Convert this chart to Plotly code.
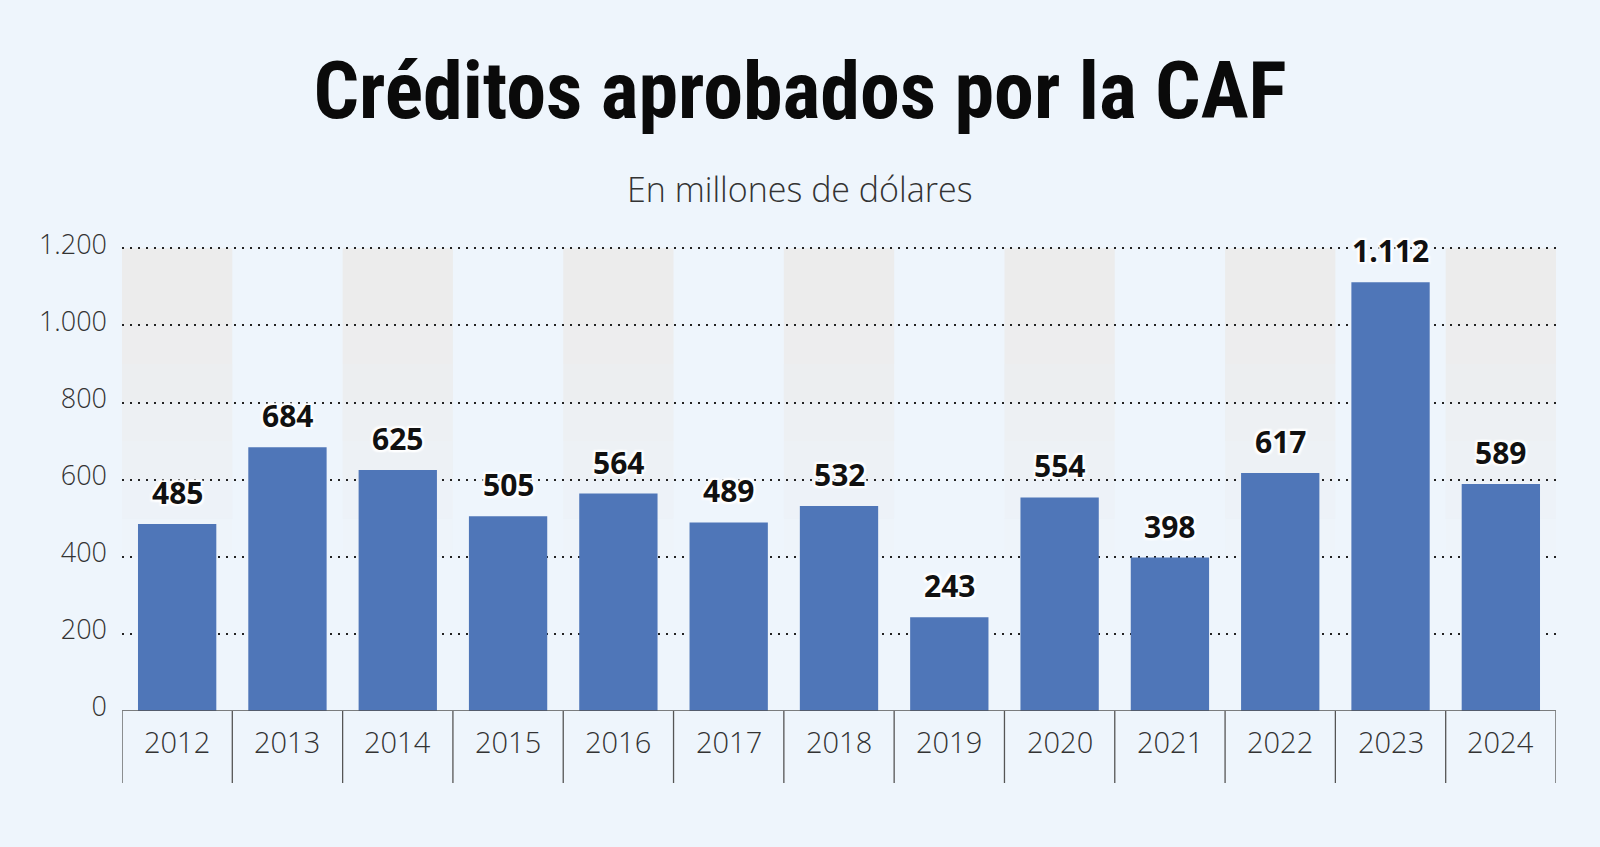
import plotly.graph_objects as go

years = ["2012", "2013", "2014", "2015", "2016", "2017", "2018", "2019", "2020", "2021", "2022", "2023", "2024"]
values = [485, 684, 625, 505, 564, 489, 532, 243, 554, 398, 617, 1112, 589]
value_labels = ["485", "684", "625", "505", "564", "489", "532", "243", "554", "398", "617", "1.112", "589"]
y_ticks = [0, 200, 400, 600, 800, 1000, 1200]
y_tick_labels = ["0", "200", "400", "600", "800", "1.000", "1.200"]

BG = "#eef5fc"
BAR = "#4f76b8"
W, H = 1600, 847
ML, MR, MB = 122, 44, 136
Y_TOP_PX = 248
Y_MAX = 1206
ppu = (H - MB - Y_TOP_PX) / 1200.0
MT = int(round(H - MB - Y_MAX * ppu))
plot_h = H - MT - MB
plot_w = W - ML - MR

fig = go.Figure()
fig.add_trace(go.Bar(
    x=years, y=values, marker=dict(color=BAR, line=dict(width=0)),
    width=0.71, hoverinfo="skip",
))

shapes = []
steps = [(1200, 1000, 1.0), (1000, 900, 0.9), (900, 800, 0.78), (800, 700, 0.6), (700, 600, 0.42), (600, 500, 0.25), (500, 400, 0.12)]
for i in range(0, len(years), 2):
    for top, bot, op in steps:
        shapes.append(dict(type="rect", xref="x", yref="y", x0=i - 0.5, x1=i + 0.5, y0=bot, y1=top,
                           fillcolor="#ececec", opacity=op, line=dict(width=0), layer="below"))
for i in range(len(years) + 1):
    shapes.append(dict(type="line", xref="x", yref="paper", x0=i - 0.5, x1=i - 0.5, y0=0, y1=-72.0 / plot_h,
                       line=dict(color="#555555", width=1.3)))
shapes.append(dict(type="line", xref="paper", yref="y", x0=0, x1=1, y0=0, y1=0,
                   line=dict(color="#555555", width=1.3)))

halo = "2px 2px 2px white, -2px -2px 2px white, 2px -2px 2px white, -2px 2px 2px white"
annotations = []
for i, (v, lab) in enumerate(zip(values, value_labels)):
    annotations.append(dict(xref="x", yref="y", x=i, y=v, text=lab, showarrow=False, yanchor="bottom", yshift=9,
                            font=dict(family="Open Sans", size=30, color="#111111", weight=700, shadow=halo)))
for i, yr in enumerate(years):
    annotations.append(dict(xref="x", yref="y", x=i, y=0, text=yr, showarrow=False, yanchor="middle", yshift=-30,
                            font=dict(family="Open Sans", size=29, color="#333333", weight=300)))
annotations.append(dict(xref="paper", yref="paper", x=(800 - ML) / plot_w, y=1 + (MT - 189) / plot_h,
                        yanchor="middle", xanchor="center", text="En millones de dólares", showarrow=False,
                        font=dict(family="Open Sans", size=34, color="#333333", weight=300)))

fig.update_layout(
    width=W, height=H,
    paper_bgcolor=BG, plot_bgcolor=BG,
    margin=dict(l=ML, r=MR, t=MT, b=MB),
    showlegend=False,
    title=dict(text="<b>Créditos aprobados por la CAF</b>", x=0.5, xanchor="center", y=1 - 90 / H, yanchor="middle",
               font=dict(family="Roboto Condensed, Liberation Sans Narrow, Roboto", size=80, color="#0a0a0a")),
    xaxis=dict(type="category", showticklabels=False, ticks="", showgrid=False, zeroline=False,
               range=[-0.5, len(years) - 0.5]),
    yaxis=dict(range=[0, Y_MAX], tickvals=y_ticks, ticktext=y_tick_labels, showgrid=True,
               gridcolor="#222222", griddash="2px,6px", gridwidth=2, zeroline=False, ticks="",
               ticklabelstandoff=14, ticklabelshift=-4,
               tickfont=dict(family="Open Sans", size=27, color="#333333", weight=300)),
    shapes=shapes,
    annotations=annotations,
)

fig.write_html("out.html")
